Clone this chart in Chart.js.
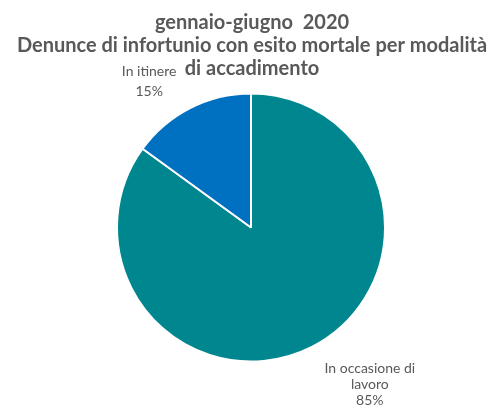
<!DOCTYPE html>
<html>
<head>
<meta charset="utf-8">
<script src="https://cdn.jsdelivr.net/npm/chart.js@4"></script>
<style>
html,body{margin:0;padding:0;background:#fff;}
#wrap{width:496px;height:409px;position:relative;}
</style>
</head>
<body>
<div id="wrap"><canvas id="c" width="496" height="409"></canvas></div>
<script>
const titleLines = ["gennaio-giugno  2020", "Denunce di infortunio con esito mortale per modalità", "di accadimento"];
const categories = ["In occasione di lavoro", "In itinere"];
const labelLines = [["In occasione di", "lavoro", "85%"], ["In itinere", "15%"]];
const values = [85, 15];
const colors = ["#00868F", "#0070C0"];

// layout-only settings
const labelOffsets = [[58, 26, 16], [-41, -32, 20]]; // dx, dy(first baseline), lineHeight

const customDraw = {
  id: 'customDraw',
  afterDraw(chart) {
    const ctx = chart.ctx;
    ctx.save();
    ctx.fillStyle = '#595959';
    ctx.textAlign = 'center';
    ctx.textBaseline = 'alphabetic';
    ctx.font = 'bold 20px Lato';
    const tb = [29, 52, 75];
    titleLines.forEach((t, i) => ctx.fillText(t, 252, tb[i]));
    ctx.font = '14px Lato';
    const meta = chart.getDatasetMeta(0);
    meta.data.forEach((arc, i) => {
      const a = (arc.startAngle + arc.endAngle) / 2;
      const ex = arc.x + Math.cos(a) * arc.outerRadius;
      const ey = arc.y + Math.sin(a) * arc.outerRadius;
      const [dx, dy, lh] = labelOffsets[i];
      labelLines[i].forEach((l, j) => ctx.fillText(l, ex + dx, ey + dy + j * lh));
    });
    ctx.restore();
  }
};

new Chart(document.getElementById('c'), {
  type: 'pie',
  data: {
    labels: categories,
    datasets: [{
      data: values,
      backgroundColor: colors,
      borderColor: '#ffffff',
      borderWidth: 2
    }]
  },
  options: {
    responsive: false,
    animation: false,
    layout: { padding: { top: 92, bottom: 46, left: 116, right: 110 } },
    plugins: {
      legend: { display: false },
      title: { display: false },
      tooltip: { enabled: false }
    }
  },
  plugins: [customDraw]
});
</script>
</body>
</html>
